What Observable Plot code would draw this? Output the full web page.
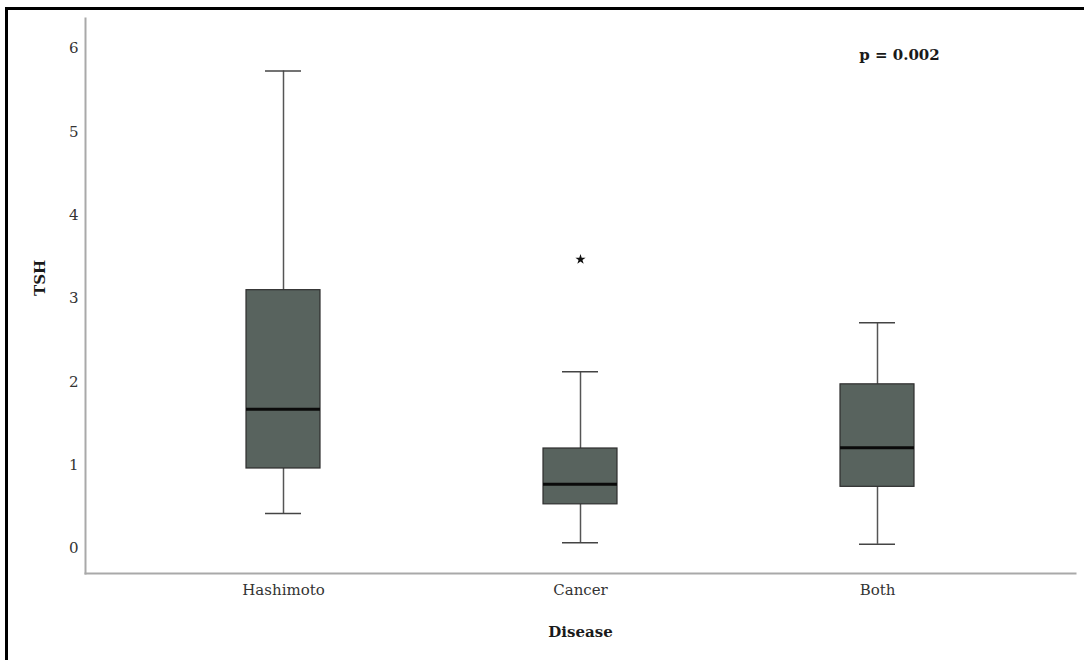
<!DOCTYPE html>
<html>
<head>
<meta charset="utf-8">
<script src="https://cdn.jsdelivr.net/npm/d3@7"></script>
<script src="https://cdn.jsdelivr.net/npm/@observablehq/plot@0.6"></script>
<style>
  html, body { margin: 0; padding: 0; background: #fff; }
  #wrap { position: relative; width: 1084px; height: 660px; overflow: hidden; }
  #border { position: absolute; left: 5px; top: 7px; width: 1200px; height: 800px;
            border-top: 3px solid #000; border-left: 3px solid #000; box-sizing: border-box; pointer-events: none; }
  #chart { position: absolute; left: 0; top: 0; }
</style>
</head>
<body>
<div id="wrap"><div id="chart"></div><div id="border"></div></div>
<script>
const diseases = ["Hashimoto", "Cancer", "Both"];
const whiskerLow = [0.42, 0.07, 0.05];
const q1 = [0.96, 0.53, 0.74];
const median = [1.67, 0.77, 1.21];
const q3 = [3.10, 1.20, 1.97];
const whiskerHigh = [5.73, 2.12, 2.71];
const outlierGroup = ["Cancer"];
const outlierValue = [3.47];
const yTicks = [0, 1, 2, 3, 4, 5, 6];
const pText = "p = 0.002";

const boxes = diseases.map((d, i) => ({
  disease: d, lo: whiskerLow[i], q1: q1[i], med: median[i], q3: q3[i], hi: whiskerHigh[i]
}));
const outliers = outlierGroup.map((d, i) => ({disease: d, tsh: outlierValue[i]}));

const font = "'DejaVu Serif', serif";

const plot = Plot.plot({
  width: 1084,
  height: 660,
  marginTop: 18,
  marginBottom: 87,
  marginLeft: 85,
  marginRight: 9,
  style: {fontFamily: font, fontSize: "15px", color: "#333", background: "transparent"},
  x: {domain: diseases, paddingInner: 0.751, paddingOuter: 0.542},
  y: {domain: [-0.3, 6.36]},
  marks: [
    Plot.frame({anchor: "left", stroke: "#a9a9a9", strokeWidth: 2}),
    Plot.frame({anchor: "bottom", stroke: "#a9a9a9", strokeWidth: 2}),
    Plot.axisY({ticks: yTicks, tickFormat: d3.format("d"), tickSize: 0, tickPadding: 7, label: null, fill: "#333", fontSize: 15}),
    Plot.axisX({tickSize: 0, tickPadding: 11, label: null, fill: "#333", fontSize: 15}),
    Plot.ruleX(boxes, {x: "disease", y1: "lo", y2: "q1", stroke: "#555", strokeWidth: 1.5}),
    Plot.ruleX(boxes, {x: "disease", y1: "q3", y2: "hi", stroke: "#555", strokeWidth: 1.5}),
    Plot.tickY(boxes, {x: "disease", y: "lo", stroke: "#444", strokeWidth: 1.5, insetLeft: 19, insetRight: 19}),
    Plot.tickY(boxes, {x: "disease", y: "hi", stroke: "#444", strokeWidth: 1.5, insetLeft: 19, insetRight: 19}),
    Plot.barY(boxes, {x: "disease", y1: "q1", y2: "q3", fill: "#58635e", stroke: "#2e2e2e", strokeWidth: 1.2}),
    Plot.tickY(boxes, {x: "disease", y: "med", stroke: "#0a0a0a", strokeWidth: 3}),
    Plot.dot(outliers, {x: "disease", y: "tsh", symbol: "star", r: 3.2, fill: "#111", stroke: "none"}),
    Plot.text(["Disease"], {frameAnchor: "bottom", dy: 59, lineAnchor: "middle", fontWeight: "bold", fontSize: 15, fill: "#1a1a1a"}),
    Plot.text(["TSH"], {frameAnchor: "left", dx: -45, rotate: -90, lineAnchor: "middle", fontWeight: "bold", fontSize: 15, fill: "#1a1a1a"}),
    Plot.text([pText], {frameAnchor: "top-left", dx: 814, dy: 37, textAnchor: "middle", lineAnchor: "middle", fontWeight: "bold", fontSize: 15, fill: "#1a1a1a"})
  ]
});
document.getElementById("chart").appendChild(plot);
</script>
</body>
</html>
